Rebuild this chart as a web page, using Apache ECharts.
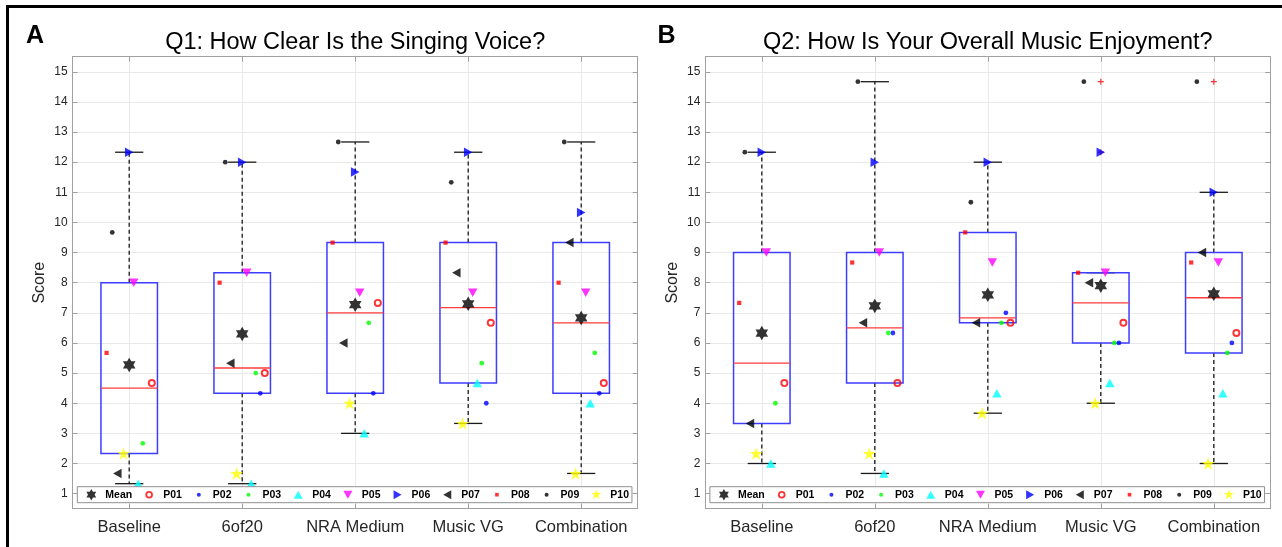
<!DOCTYPE html>
<html>
<head>
<meta charset="utf-8">
<script src="https://cdn.jsdelivr.net/npm/echarts@6.0.0/dist/echarts.min.js"></script>
<style>
  html, body { margin: 0; padding: 0; background: #fff; }
  #chart { width: 1282px; height: 547px; }
</style>
</head>
<body>
<div id="chart"></div>
<script>
// ---- data ----
const conditions = ["Baseline", "6of20", "NRA Medium", "Music VG", "Combination"];
const participants = ["P01", "P02", "P03", "P04", "P05", "P06", "P07", "P08", "P09", "P10"];

// Q1 scores: one row per participant (P01..P10), one column per condition
// (P02 has no marker drawn at Baseline in the original figure)
const q1Scores = [
  [4.67, 5, 7.33, 6.67, 4.67],
  [null, 4.33, 4.33, 4, 4.33],
  [2.67, 5, 6.67, 5.33, 5.67],
  [1.33, 1.33, 3, 4.67, 4],
  [8, 8.33, 7.67, 7.67, 7.67],
  [12.33, 12, 11.67, 12.33, 10.33],
  [1.67, 5.33, 6, 8.33, 9.33],
  [5.67, 8, 9.33, 9.33, 8],
  [9.67, 12, 12.67, 11.33, 12.67],
  [2.33, 1.67, 4, 3.33, 1.67]
];
const q1Means = [5.27, 6.3, 7.27, 7.3, 6.83];
// box stats: [lower whisker, Q1, median, Q3, upper whisker]
const q1Boxes = [
  [1.33, 2.33, 4.5, 8, 12.33],
  [1.33, 4.33, 5.17, 8.33, 12],
  [3, 4.33, 7, 9.33, 12.67],
  [3.33, 4.67, 7.17, 9.33, 12.33],
  [1.67, 4.33, 6.67, 9.33, 12.67]
];
const q1Outliers = [];

const q2Scores = [
  [4.67, 4.67, 6.67, 6.67, 6.33],
  [null, 6.33, 7, 6, 6],
  [4, 6.33, 6.67, 6, 5.67],
  [2, 1.67, 4.33, 4.67, 4.33],
  [9, 9, 8.67, 8.33, 8.67],
  [12.33, 12, 12, 12.33, 11],
  [3.33, 6.67, 6.67, 8, 9],
  [7.33, 8.67, 9.67, 8.33, 8.67],
  [12.33, 14.67, 10.67, 14.67, 14.67],
  [2.33, 2.33, 3.67, 4, 2]
];
const q2Means = [6.33, 7.23, 7.6, 7.9, 7.63];
const q2Boxes = [
  [2, 3.33, 5.33, 9, 12.33],
  [1.67, 4.67, 6.5, 9, 14.67],
  [3.67, 6.67, 6.83, 9.67, 12],
  [4, 6, 7.33, 8.33, 8.33],
  [2, 5.67, 7.5, 9, 11]
];
// [condition number, score]
const q2Outliers = [[4, 12.33], [4, 14.67], [5, 14.67]];

const titles = ["Q1: How Clear Is the Singing Voice?", "Q2: How Is Your Overall Music Enjoyment?"];
const panelLetters = ["A", "B"];

// ---- styling ----
const FONT = "'Liberation Sans', Arial, Helvetica, sans-serif";
const AXIS = "#a0a0a0";
const GRID = "#e9e9e9";
const TXT = "#262626";

// horizontal spread of each participant's marker around the condition centre
const jitter = [0.2, 0.16, 0.12, 0.08, 0.04, 0, -0.105, -0.2, -0.15, -0.05];

const HEXAGRAM = "path://M0,-10L8.66,5L-8.66,5ZM0,10L-8.66,-5L8.66,-5Z";
const PENTAGRAM = "path://M0,-10L2.245,-3.09L9.511,-3.09L3.633,1.18L5.878,8.09L0,3.82L-5.878,8.09L-3.633,1.18L-9.511,-3.09L-2.245,-3.09Z";
const RING = "path://M0,-4A4,4 0 1,1 0,4A4,4 0 1,1 0,-4ZM0,-2.1A2.1,2.1 0 1,0 0,2.1A2.1,2.1 0 1,0 0,-2.1Z";
const PLUS = "path://M-0.6,-3H0.6V-0.6H3V0.6H0.6V3H-0.6V0.6H-3V-0.6H-0.6Z";

const markers = [
  { symbol: RING, size: 8, color: "#ff0000" },
  { symbol: "circle", size: 4.8, color: "#0000ff" },
  { symbol: "circle", size: 4.8, color: "#00ff00" },
  { symbol: "triangle", size: [9.5, 8.5], color: "#00ffff" },
  { symbol: "triangle", size: [9.5, 8.5], color: "#ff00ff", rotate: 180 },
  { symbol: "triangle", size: [9.5, 8.5], color: "#0000ff", rotate: -90 },
  { symbol: "triangle", size: [9.5, 8.5], color: "#000000", rotate: 90 },
  { symbol: "rect", size: 4.2, color: "#ff0000" },
  { symbol: "circle", size: 4.8, color: "#000000" },
  { symbol: PENTAGRAM, size: [13, 12.4], color: "#ffff00" }
];

// legend icons: drawn in an 18x12 box (the two leading moves fix the box)
const pad = d => "path://M0,0M18,12" + d;
const DOT = "M9,4A2,2 0 1,1 9,8A2,2 0 1,1 9,4Z";
const legendIcons = [
  pad("M9,0.3L13.93,8.85L4.07,8.85ZM9,11.7L4.07,3.15L13.93,3.15Z"),
  pad("M9,2.2A3.8,3.8 0 1,1 9,9.8A3.8,3.8 0 1,1 9,2.2ZM9,4A2,2 0 1,0 9,8A2,2 0 1,0 9,4Z"),
  pad(DOT),
  pad(DOT),
  pad("M9,2L13.5,10L4.5,10Z"),
  pad("M4.5,2L13.5,2L9,10Z"),
  pad("M5,1.5L13,6L5,10.5Z"),
  pad("M13,1.5L5,6L13,10.5Z"),
  pad("M7.2,4.2L10.8,4.2L10.8,7.8L7.2,7.8Z"),
  pad(DOT),
  pad("M9,0.5L10.24,4.3L14.23,4.3L11,6.65L12.23,10.45L9,8.1L5.77,10.45L7,6.65L3.77,4.3L7.76,4.3Z")
];

const grids = [
  { left: 72.7, top: 56.7, width: 565, height: 452 },
  { left: 705.3, top: 56.7, width: 565, height: 452 }
];

const isInt = v => Math.abs(v - Math.round(v)) < 1e-6;

function renderBox(params, api) {
  const x = api.value(0);
  const pLo = api.coord([x, api.value(1)]);
  const pQ1 = api.coord([x, api.value(2)]);
  const pMed = api.coord([x, api.value(3)]);
  const pQ3 = api.coord([x, api.value(4)]);
  const pHi = api.coord([x, api.value(5)]);
  const boxW = api.size([0.5, 0])[0];
  const capW = boxW / 2;
  const cx = pMed[0];
  const dash = { stroke: "#1a1a1a", lineWidth: 1.3, lineDash: [4, 3] };
  const solid = { stroke: "#1a1a1a", lineWidth: 1.3 };
  return {
    type: "group",
    children: [
      { type: "line", shape: { x1: cx, y1: pQ3[1], x2: cx, y2: pHi[1] }, style: dash },
      { type: "line", shape: { x1: cx, y1: pQ1[1], x2: cx, y2: pLo[1] }, style: dash },
      { type: "line", shape: { x1: cx - capW / 2, y1: pHi[1], x2: cx + capW / 2, y2: pHi[1] }, style: solid },
      { type: "line", shape: { x1: cx - capW / 2, y1: pLo[1], x2: cx + capW / 2, y2: pLo[1] }, style: solid },
      { type: "rect", shape: { x: cx - boxW / 2, y: pQ3[1], width: boxW, height: pQ1[1] - pQ3[1] },
        style: { fill: "none", stroke: "#3d3dff", lineWidth: 1.5 } },
      { type: "line", shape: { x1: cx - boxW / 2, y1: pMed[1], x2: cx + boxW / 2, y2: pMed[1] },
        style: { stroke: "#ff3b3b", lineWidth: 1.3 } }
    ]
  };
}

function panelSeries(p, scores, means, boxes, outliers) {
  const axes = { xAxisIndex: p * 2, yAxisIndex: p * 2 };
  const list = [];
  list.push(Object.assign({
    type: "custom",
    name: "box" + p,
    renderItem: renderBox,
    data: boxes.map((b, i) => [i + 1].concat(b)),
    encode: { x: 0, y: [1, 2, 3, 4, 5] },
    silent: true
  }, axes));
  list.push(Object.assign({
    type: "scatter",
    name: "outlier" + p,
    data: outliers,
    symbol: PLUS,
    symbolSize: 6,
    itemStyle: { color: "#ff0000" },
    silent: true
  }, axes));
  participants.forEach((name, k) => {
    const m = markers[k];
    list.push(Object.assign({
      type: "scatter",
      name: name,
      data: scores[k].map((v, i) => (v == null ? null : [i + 1 + jitter[k], v])).filter(d => d),
      symbol: m.symbol,
      symbolSize: m.size,
      symbolRotate: m.rotate || 0,
      itemStyle: { color: m.color, borderWidth: 0 },
      silent: true
    }, axes));
  });
  list.push(Object.assign({
    type: "scatter",
    name: "Mean",
    data: means.map((v, i) => [i + 1, v]),
    symbol: HEXAGRAM,
    symbolSize: [12.6, 14.5],
    itemStyle: { color: "#000000", borderWidth: 0 },
    silent: true
  }, axes));
  return list;
}

const xAxes = [];
const yAxes = [];
grids.forEach((g, p) => {
  const line = { show: true, onZero: false, lineStyle: { color: AXIS, width: 1 } };
  const tick = { show: true, inside: true, length: 5, lineStyle: { color: AXIS } };
  xAxes.push({
    type: "value", gridIndex: p, position: "bottom", min: 0.5, max: 5.5, splitNumber: 5,
    axisLine: line, axisTick: tick,
    axisLabel: { formatter: v => (isInt(v) ? conditions[Math.round(v) - 1] : ""),
      color: TXT, fontSize: 16.5, fontFamily: FONT, margin: 10 },
    splitLine: { show: true, lineStyle: { color: GRID, width: 1 } }
  });
  xAxes.push({
    type: "value", gridIndex: p, position: "top", min: 0.5, max: 5.5, splitNumber: 5,
    axisLine: line, axisTick: tick, axisLabel: { show: false }, splitLine: { show: false }
  });
  yAxes.push({
    type: "value", gridIndex: p, position: "left", min: 0.5, max: 15.5, splitNumber: 15,
    name: "Score", nameLocation: "middle", nameGap: 25,
    nameTextStyle: { color: TXT, fontSize: 16, fontFamily: FONT },
    axisLine: line, axisTick: tick,
    axisLabel: { formatter: v => (isInt(v) ? String(Math.round(v)) : ""),
      color: TXT, fontSize: 12, fontFamily: FONT, margin: 5 },
    splitLine: { show: true, lineStyle: { color: GRID, width: 1 } }
  });
  yAxes.push({
    type: "value", gridIndex: p, position: "right", min: 0.5, max: 15.5, splitNumber: 15,
    axisLine: line, axisTick: tick, axisLabel: { show: false }, splitLine: { show: false }
  });
});

const legendData = ["Mean"].concat(participants).map((n, k) => ({ name: n, icon: legendIcons[k] }));
const legends = grids.map(g => ({
  data: legendData,
  left: g.left + 4.6,
  top: 486.7,
  orient: "horizontal",
  itemWidth: 18,
  itemHeight: 12,
  itemGap: 8,
  padding: [2, 3, 2, 5],
  borderColor: "#8f8f8f",
  borderWidth: 1,
  backgroundColor: "#fff",
  selectedMode: false,
  itemStyle: { borderWidth: 0 },
  textStyle: { color: "#000", fontSize: 10.5, fontWeight: "bold", fontFamily: FONT }
}));

const titleList = [];
grids.forEach((g, p) => {
  titleList.push({
    text: panelLetters[p], left: p === 0 ? 26 : 657.5, top: 24, padding: 0,
    textStyle: { fontSize: 25, fontWeight: "bold", color: "#000", fontFamily: FONT, lineHeight: 25 }
  });
  titleList.push({
    text: titles[p], left: g.left + g.width / 2, textAlign: "center", top: 30.5, padding: 0,
    textStyle: { fontSize: 23.5, fontWeight: "normal", color: "#000", fontFamily: FONT, lineHeight: 23.5 }
  });
});

const chart = echarts.init(document.getElementById("chart"), null, { renderer: "canvas" });
chart.setOption({
  animation: false,
  backgroundColor: "#fff",
  textStyle: { fontFamily: FONT },
  title: titleList,
  grid: grids.map(g => Object.assign({ outerBoundsMode: "none", containLabel: false }, g)),
  xAxis: xAxes,
  yAxis: yAxes,
  legend: legends,
  tooltip: { show: false },
  graphic: [{
    type: "rect", silent: true, z: 100,
    shape: { x: 7.5, y: 6.5, width: 1300, height: 600 },
    style: { fill: "none", stroke: "#000", lineWidth: 3 }
  }],
  series: panelSeries(0, q1Scores, q1Means, q1Boxes, q1Outliers)
    .concat(panelSeries(1, q2Scores, q2Means, q2Boxes, q2Outliers))
});
</script>
</body>
</html>
